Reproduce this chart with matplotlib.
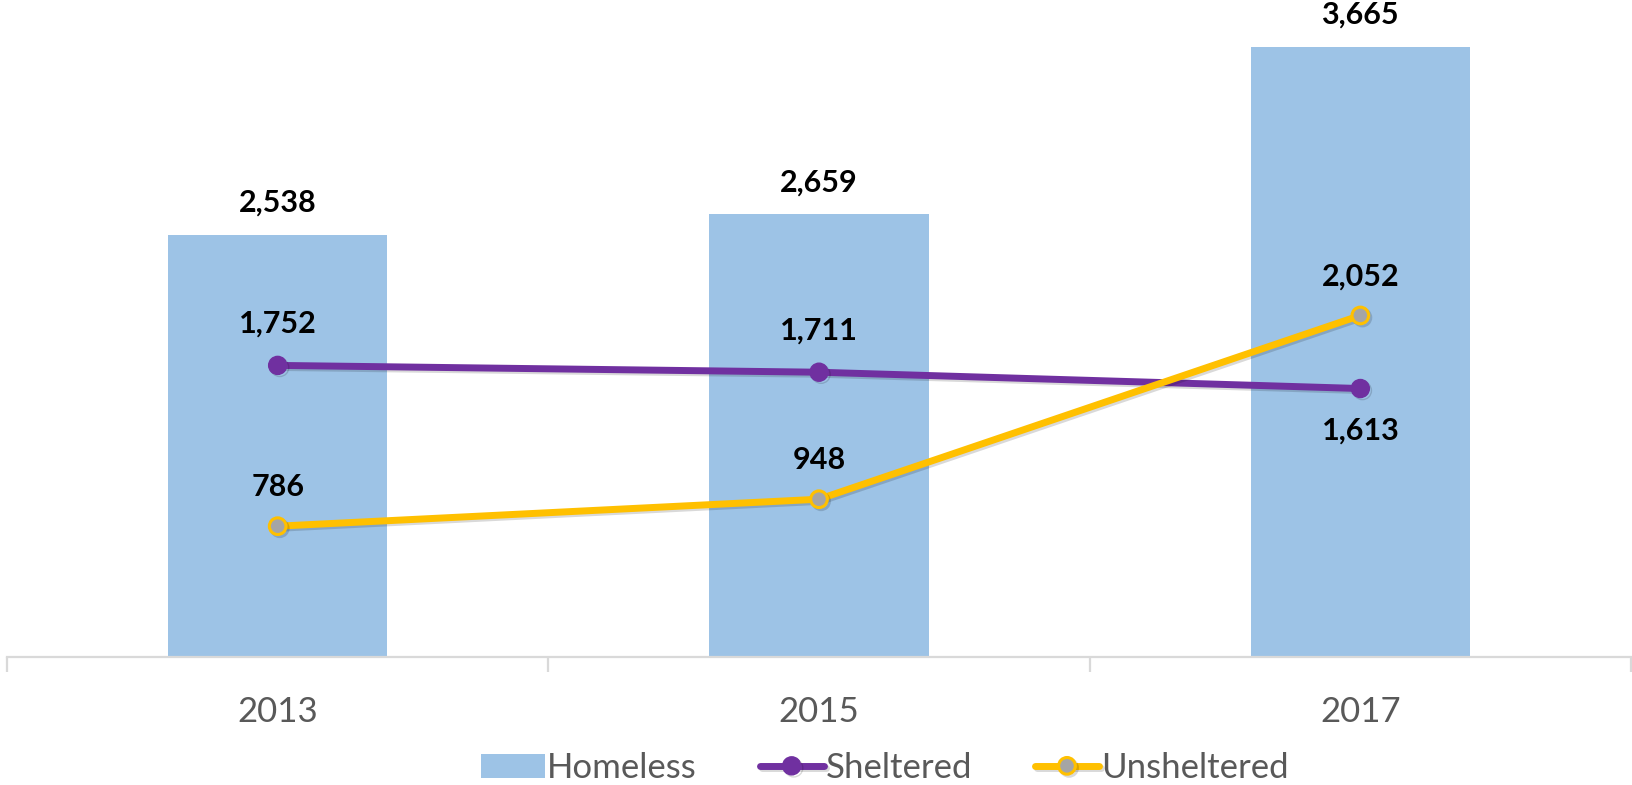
import matplotlib
matplotlib.use("Agg")
import matplotlib.pyplot as plt
import matplotlib.patheffects as pe

years = ["2013", "2015", "2017"]
homeless = [2538, 2659, 3665]
sheltered = [1752, 1711, 1613]
unsheltered = [786, 948, 2052]

W, H, DPI = 1633, 785, 100
fig = plt.figure(figsize=(W / DPI, H / DPI), dpi=DPI)
ax = fig.add_axes([7 / W, 128 / H, 1624 / W, 657 / H])

FONT = ["Lato", "DejaVu Sans"]
BAR_C = "#9DC3E6"
PURPLE = "#7030A0"
GOLD = "#FFC000"
GRAY_TXT = "#595959"
AXIS_C = "#D9D9D9"

x = list(range(len(years)))
bars = ax.bar(x, homeless, width=0.405, color=BAR_C, zorder=1, label="Homeless")

shadow = [pe.SimpleLineShadow(offset=(1.5, -1.5), alpha=0.15, shadow_color="k"), pe.Normal()]
l1, = ax.plot(x, sheltered, color=PURPLE, lw=5, marker="o", ms=13, mfc=PURPLE, mec=PURPLE,
              zorder=3, label="Sheltered", path_effects=shadow, solid_capstyle="round")
l2, = ax.plot(x, unsheltered, color=GOLD, lw=5, marker="o", ms=12, mfc="#A5A5A5", mec=GOLD,
              mew=2.2, zorder=4, label="Unsheltered", path_effects=shadow, solid_capstyle="round")

ax.set_xlim(-0.5, 2.5)
ax.set_ylim(0, 657 / (610 / 3665))

lab_kw = dict(ha="center", va="center", fontsize=22, fontweight="bold", color="black",
              family=FONT, textcoords="offset points", annotation_clip=False)
for xi, v in zip(x, homeless):
    ax.annotate(f"{v:,}", (xi, v), xytext=(0, 23), **lab_kw)
sh_dir = [1, 1, -1]
for xi, v, d in zip(x, sheltered, sh_dir):
    ax.annotate(f"{v:,}", (xi, v), xytext=(0, 30 * d), **lab_kw)
for xi, v in zip(x, unsheltered):
    ax.annotate(f"{v:,}", (xi, v), xytext=(0, 28), **lab_kw)

for s in ["top", "right", "left"]:
    ax.spines[s].set_visible(False)
ax.spines["bottom"].set_color(AXIS_C)
ax.spines["bottom"].set_linewidth(1.6)
ax.set_yticks([])
ax.set_xticks([-0.5, 0.5, 1.5, 2.5])
ax.set_xticklabels([])
ax.tick_params(axis="x", which="major", direction="out", length=11, width=1.6, color=AXIS_C)
ax.set_xticks(x, minor=True)
ax.set_xticklabels(years, minor=True)
ax.tick_params(axis="x", which="minor", length=0, pad=28, labelsize=25, labelcolor=GRAY_TXT)
for t in ax.get_xticklabels(minor=True):
    t.set_family(FONT)

leg = fig.legend(handles=[bars, l1, l2], labels=["Homeless", "Sheltered", "Unsheltered"],
                 loc="center left", bbox_to_anchor=(481 / W, 1 - 768 / H), ncol=3,
                 frameon=False, handlelength=1.85, handletextpad=0.06,
                 columnspacing=1.8, borderpad=0, borderaxespad=0,
                 prop={"family": FONT, "size": 25})
for t in leg.get_texts():
    t.set_color(GRAY_TXT)

fig.savefig("out.png", dpi=DPI)
